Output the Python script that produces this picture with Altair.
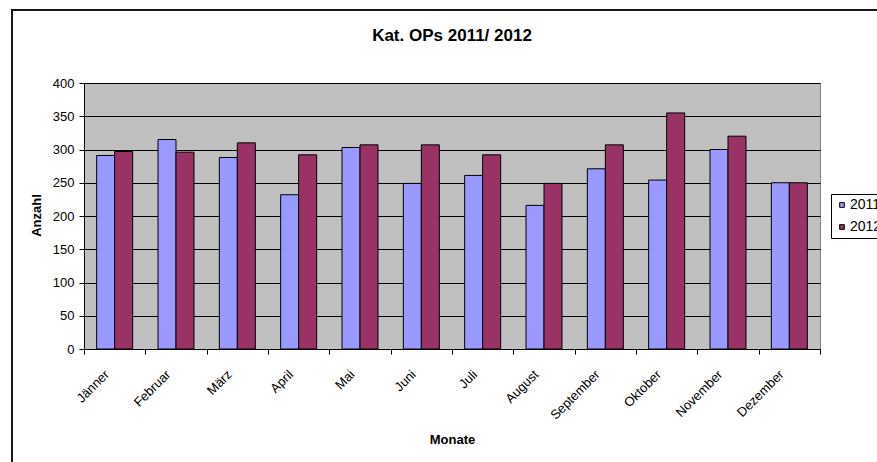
import altair as alt
import pandas as pd

# Monthly counts of catheter OPs for two years
months = ["Jänner", "Februar", "März", "April", "Mai", "Juni", "Juli",
          "August", "September", "Oktober", "November", "Dezember"]
values_2011 = [291, 315, 288, 232, 303, 249, 261, 216, 271, 254, 300, 250]
values_2012 = [297, 296, 310, 292, 307, 307, 292, 249, 307, 355, 320, 250]
years = ["2011", "2012"]
year_colors = ["#9999FF", "#993366"]
y_ticks = [0, 50, 100, 150, 200, 250, 300, 350, 400]

rows = []
for m, a, b in zip(months, values_2011, values_2012):
    rows.append({"Monat": m, "Jahr": years[0], "Anzahl": a})
    rows.append({"Monat": m, "Jahr": years[1], "Anzahl": b})
df = pd.DataFrame(rows)

FONT = "Liberation Sans"
W, H = 736, 266
PAD_L, PAD_T = 84, 83

bars = alt.Chart(df).mark_bar(stroke="#000000", strokeWidth=1).encode(
    x=alt.X(
        "Monat:N",
        sort=months,
        scale=alt.Scale(paddingInner=0, paddingOuter=0),
        axis=alt.Axis(
            title="Monate",
            titleFont=FONT,
            titleFontSize=13,
            titleFontWeight="bold",
            titleColor="#000000",
            titleBaseline="middle",
            titleY=90,
            labelAngle=-45,
            labelAlign="right",
            labelBaseline="middle",
            labelFont=FONT,
            labelFontSize=13,
            labelColor="#000000",
            labelPadding=18,
            labelOffset=-8,
            tickBand="extent",
            tickSize=5,
            tickColor="#000000",
            domainColor="#000000",
            grid=False,
        ),
    ),
    xOffset=alt.XOffset(
        "Jahr:N",
        sort=years,
        scale=alt.Scale(paddingInner=0, paddingOuter=0.704),
    ),
    y=alt.Y(
        "Anzahl:Q",
        scale=alt.Scale(domain=[0, 400], nice=False),
        axis=alt.Axis(
            title="Anzahl",
            titleFont=FONT,
            titleFontSize=13,
            titleFontWeight="bold",
            titleColor="#000000",
            titleAngle=270,
            titleBaseline="middle",
            titleX=-48,
            titleY=132,
            values=y_ticks,
            labelFont=FONT,
            labelFontSize=13,
            labelColor="#000000",
            labelPadding=5,
            tickSize=5,
            tickColor="#000000",
            domainColor="#000000",
            gridColor="#000000",
            gridWidth=1,
        ),
    ),
    color=alt.Color(
        "Jahr:N",
        sort=years,
        scale=alt.Scale(domain=years, range=year_colors),
        legend=alt.Legend(
            title=None,
            orient="none",
            legendX=747,
            legendY=111,
            symbolType="square",
            symbolSize=22,
            symbolStrokeColor="#000000",
            symbolStrokeWidth=1,
            labelFont=FONT,
            labelFontSize=14,
            labelColor="#000000",
            labelOffset=1,
            rowPadding=8,
            padding=4,
            strokeColor="#000000",
            fillColor="#FFFFFF",
        ),
    ),
)

# Outer chart frame
frame = alt.Chart(df).mark_rect(
    fill=None, stroke="#1a1a1a", strokeWidth=1.5, clip=False
).encode(
    x=alt.value(12 - PAD_L),
    x2=alt.value(877 - PAD_L + 20),
    y=alt.value(10 - PAD_T),
    y2=alt.value(462 - PAD_T + 20),
)

chart = alt.layer(frame, bars).properties(
    width=W,
    height=H,
    title=alt.TitleParams(
        "Kat. OPs 2011/ 2012",
        font=FONT,
        fontSize=17,
        fontWeight="bold",
        color="#000000",
        anchor="middle",
        offset=0,
        dy=36,
    ),
    autosize=alt.AutoSizeParams(type="none"),
    padding={"left": PAD_L, "top": PAD_T, "right": 877 - PAD_L - W, "bottom": 462 - PAD_T - H},
    background="#FFFFFF",
).configure_view(
    fill="#C0C0C0",
    stroke="#808080",
    strokeWidth=1,
)

chart.save("out.html", embed_options={"renderer": "svg", "actions": False})
